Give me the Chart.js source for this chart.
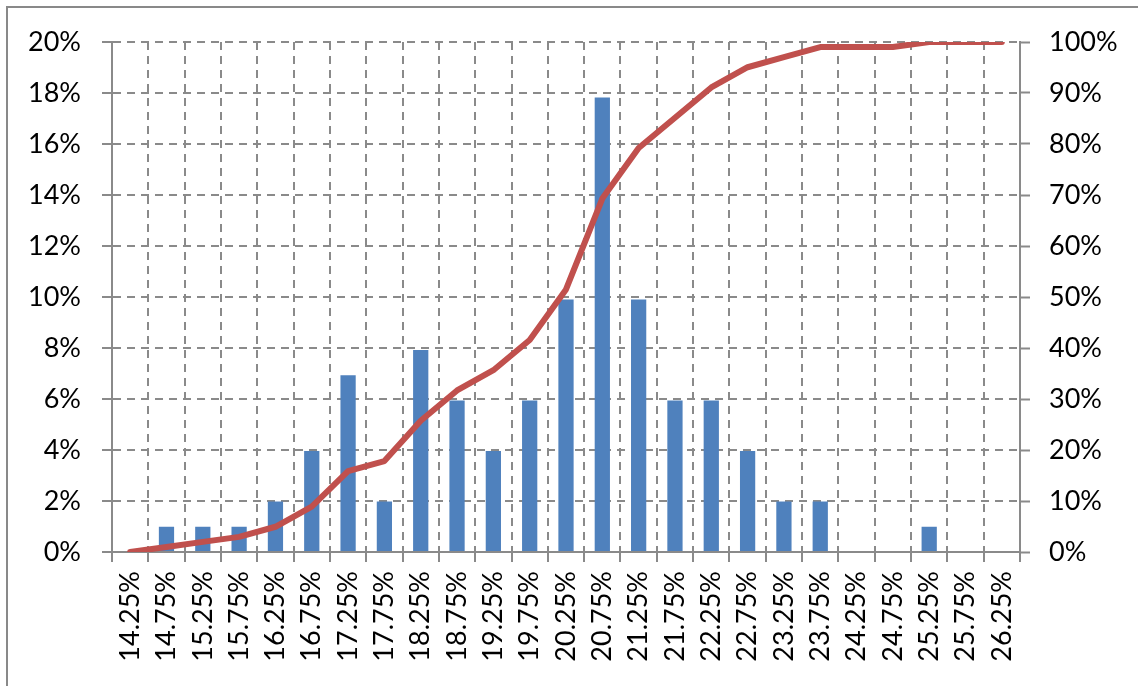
<!DOCTYPE html>
<html>
<head>
<meta charset="utf-8">
<script src="https://cdn.jsdelivr.net/npm/chart.js@4"></script>
<style>
  html, body { margin: 0; padding: 0; background: #fff; }
  #wrap { position: relative; width: 1138px; height: 686px; overflow: hidden; }
  #frame { position: absolute; left: 6px; top: 6px; width: 1200px; height: 800px; border: 2px solid #898989; box-sizing: border-box; }
  canvas { position: absolute; left: 0; top: 0; }
</style>
</head>
<body>
<div id="wrap">
  <div id="frame"></div>
  <canvas id="c" width="1138" height="686"></canvas>
</div>
<script>
const categories = ['14.25%','14.75%','15.25%','15.75%','16.25%','16.75%','17.25%','17.75%','18.25%','18.75%','19.25%','19.75%','20.25%','20.75%','21.25%','21.75%','22.25%','22.75%','23.25%','23.75%','24.25%','24.75%','25.25%','25.75%','26.25%'];
const frequency = [0, 0.99, 0.99, 0.99, 1.98, 3.96, 6.93, 1.98, 7.92, 5.94, 3.96, 5.94, 9.90, 17.82, 9.90, 5.94, 5.94, 3.96, 1.98, 1.98, 0, 0, 0.99, 0, 0];
const cumulative = [0, 0.99, 1.98, 2.97, 4.95, 8.91, 15.84, 17.82, 25.74, 31.68, 35.64, 41.58, 51.49, 69.31, 79.21, 85.15, 91.09, 95.05, 97.03, 99.01, 99.01, 99.01, 100, 100, 100];
const leftTicks = {min: 0, max: 20, step: 2};
const rightTicks = {min: 0, max: 100, step: 10};

const GRID = '#8a8a8a';
const FONT = {family: 'Lato', size: 27};

new Chart(document.getElementById('c'), {
  data: {
    labels: categories,
    datasets: [
      {
        type: 'line',
        data: cumulative,
        yAxisID: 'y1',
        borderColor: '#C0504D',
        borderWidth: 6,
        pointRadius: 0,
        tension: 0,
        borderCapStyle: 'round',
        borderJoinStyle: 'round',
        order: 0
      },
      {
        type: 'bar',
        data: frequency,
        yAxisID: 'y',
        backgroundColor: '#4F81BD',
        borderWidth: 0,
        barPercentage: 0.42,
        categoryPercentage: 1.0,
        order: 1
      }
    ]
  },
  options: {
    responsive: false,
    animation: false,
    events: [],
    layout: { padding: { top: 42, left: 0, right: 0, bottom: 0 } },
    plugins: { legend: { display: false }, tooltip: { enabled: false } },
    scales: {
      x: {
        offset: true,
        grid: {
          offset: true,
          color: GRID,
          lineWidth: 2,
          drawTicks: true,
          tickLength: 10,
          tickColor: GRID,
          tickWidth: 2,
          tickBorderDash: []
        },
        border: { display: true, color: GRID, width: 2, dash: [8, 6] },
        ticks: {
          autoSkip: false,
          minRotation: 90,
          maxRotation: 90,
          padding: 9,
          color: '#000',
          font: FONT
        },
        afterFit(s) { s.height = 134; }
      },
      y: {
        position: 'left',
        min: leftTicks.min,
        max: leftTicks.max,
        ticks: {
          stepSize: leftTicks.step,
          padding: 21,
          color: '#000',
          font: FONT,
          callback: v => v + '%'
        },
        grid: {
          color: GRID,
          lineWidth: 2,
          drawTicks: true,
          tickLength: 10,
          tickColor: GRID,
          tickWidth: 2,
          tickBorderDash: []
        },
        border: { display: true, color: GRID, width: 2, dash: [8, 6] },
        afterFit(s) { s.width = 112; }
      },
      y1: {
        position: 'right',
        min: rightTicks.min,
        max: rightTicks.max,
        ticks: {
          stepSize: rightTicks.step,
          padding: 19,
          color: '#000',
          font: FONT,
          callback: v => v + '%'
        },
        grid: {
          drawOnChartArea: false,
          drawTicks: true,
          tickLength: 10,
          tickColor: GRID,
          tickWidth: 2,
          tickBorderDash: []
        },
        border: { display: true, color: GRID, width: 2 },
        afterFit(s) { s.width = 118; }
      }
    }
  }
});
</script>
</body>
</html>
